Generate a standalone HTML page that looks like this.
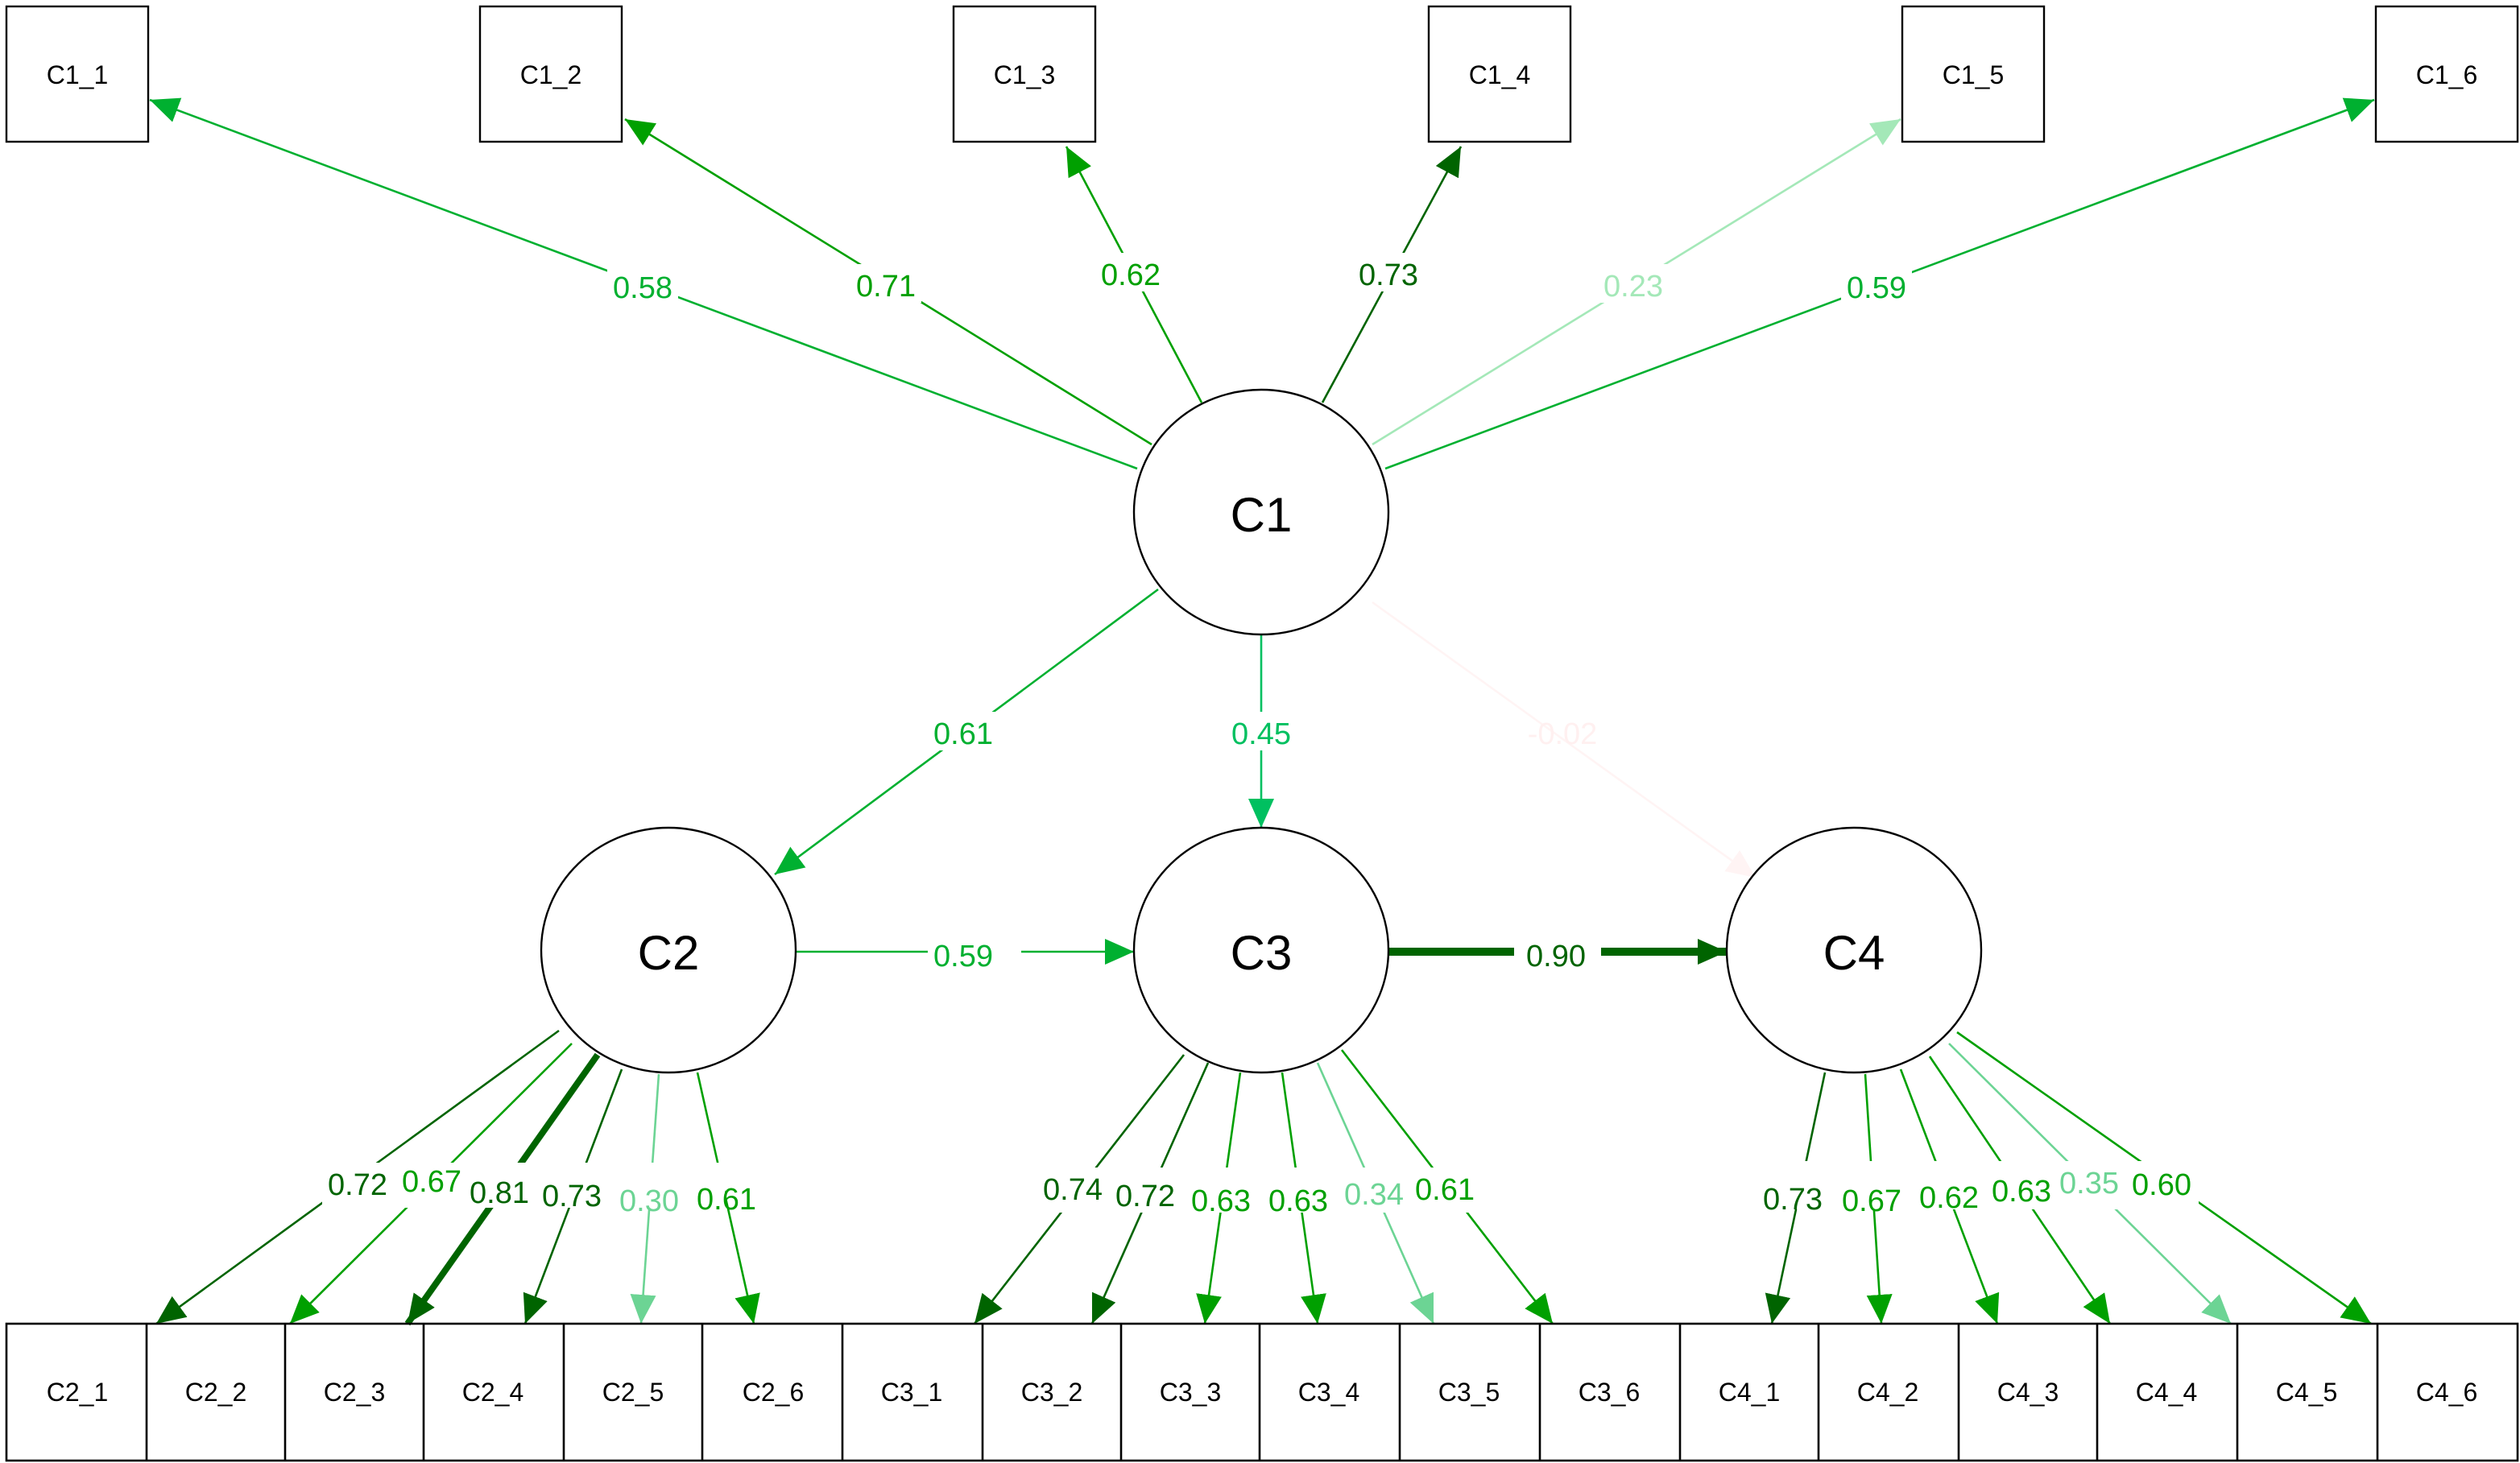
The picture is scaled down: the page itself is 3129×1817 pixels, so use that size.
<!DOCTYPE html>
<html><head><meta charset="utf-8"><style>
html,body{margin:0;padding:0;background:#fff}
svg{display:block}
text{font-family:"Liberation Sans",sans-serif}
</style></head><body>
<svg width="3129" height="1817" viewBox="0 0 1564.5 908.5" xmlns="http://www.w3.org/2000/svg">
<defs>
<marker id="md" markerUnits="userSpaceOnUse" markerWidth="20" markerHeight="18" refX="18" refY="8" orient="auto"><path d="M0,0 L18,8 L0,16 Z" fill="#006400"/></marker>
<marker id="mm" markerUnits="userSpaceOnUse" markerWidth="20" markerHeight="18" refX="18" refY="8" orient="auto"><path d="M0,0 L18,8 L0,16 Z" fill="#00a000"/></marker>
<marker id="mb" markerUnits="userSpaceOnUse" markerWidth="20" markerHeight="18" refX="18" refY="8" orient="auto"><path d="M0,0 L18,8 L0,16 Z" fill="#00b030"/></marker>
<marker id="mt" markerUnits="userSpaceOnUse" markerWidth="20" markerHeight="18" refX="18" refY="8" orient="auto"><path d="M0,0 L18,8 L0,16 Z" fill="#00c060"/></marker>
<marker id="ml" markerUnits="userSpaceOnUse" markerWidth="20" markerHeight="18" refX="18" refY="8" orient="auto"><path d="M0,0 L18,8 L0,16 Z" fill="#6cd494"/></marker>
<marker id="mx" markerUnits="userSpaceOnUse" markerWidth="20" markerHeight="18" refX="18" refY="8" orient="auto"><path d="M0,0 L18,8 L0,16 Z" fill="#a4e8b8"/></marker>
<marker id="mf" markerUnits="userSpaceOnUse" markerWidth="20" markerHeight="18" refX="18" refY="8" orient="auto"><path d="M0,0 L18,8 L0,16 Z" fill="#fff4f4"/></marker>
</defs>
<g fill="none" stroke-width="1.3">
<line x1="706" y1="291" x2="93" y2="62" stroke="#00b030" marker-end="url(#mb)"/>
<line x1="715" y1="276" x2="388" y2="74" stroke="#00a000" marker-end="url(#mm)"/>
<line x1="746" y1="250" x2="662" y2="91" stroke="#00a000" marker-end="url(#mm)"/>
<line x1="821" y1="250" x2="907" y2="91" stroke="#006400" marker-end="url(#md)"/>
<line x1="852" y1="276" x2="1180" y2="74" stroke="#a4e8b8" marker-end="url(#mx)"/>
<line x1="860" y1="291" x2="1474" y2="62" stroke="#00b030" marker-end="url(#mb)"/>
<line x1="719" y1="366" x2="481" y2="543" stroke="#00b030" marker-end="url(#mb)"/>
<line x1="783" y1="394" x2="783" y2="514" stroke="#00c060" marker-end="url(#mt)"/>
<line x1="852" y1="374" x2="1090" y2="545" stroke="#fff4f4" marker-end="url(#mf)"/>
<line x1="494" y1="591" x2="704" y2="591" stroke="#00b030" marker-end="url(#mb)"/>
<line x1="862" y1="591" x2="1072" y2="591" stroke="#006400" stroke-width="5" marker-end="url(#md)"/>
<line x1="347" y1="640" x2="97" y2="822" stroke="#006400" marker-end="url(#md)"/>
<line x1="355" y1="648" x2="180" y2="822" stroke="#00a000" marker-end="url(#mm)"/>
<line x1="371" y1="655" x2="253" y2="822" stroke="#006400" stroke-width="4" marker-end="url(#md)"/>
<line x1="386" y1="664" x2="326" y2="822" stroke="#006400" marker-end="url(#md)"/>
<line x1="409" y1="667" x2="398" y2="822" stroke="#6cd494" marker-end="url(#ml)"/>
<line x1="433" y1="666" x2="468" y2="822" stroke="#00a000" marker-end="url(#mm)"/>
<line x1="735" y1="655" x2="605" y2="822" stroke="#006400" marker-end="url(#md)"/>
<line x1="750" y1="660" x2="678" y2="822" stroke="#006400" marker-end="url(#md)"/>
<line x1="770" y1="666" x2="748" y2="822" stroke="#00a000" marker-end="url(#mm)"/>
<line x1="796" y1="666" x2="818" y2="822" stroke="#00a000" marker-end="url(#mm)"/>
<line x1="818" y1="660" x2="890" y2="822" stroke="#6cd494" marker-end="url(#ml)"/>
<line x1="833" y1="652" x2="964" y2="822" stroke="#00a000" marker-end="url(#mm)"/>
<line x1="1133" y1="666" x2="1100" y2="822" stroke="#006400" marker-end="url(#md)"/>
<line x1="1158" y1="667" x2="1168" y2="822" stroke="#00a000" marker-end="url(#mm)"/>
<line x1="1180" y1="664" x2="1240" y2="822" stroke="#00a000" marker-end="url(#mm)"/>
<line x1="1198" y1="656" x2="1310" y2="822" stroke="#00a000" marker-end="url(#mm)"/>
<line x1="1210" y1="648" x2="1385" y2="822" stroke="#6cd494" marker-end="url(#ml)"/>
<line x1="1215" y1="641" x2="1472" y2="822" stroke="#00a000" marker-end="url(#mm)"/>
</g>
<g fill="#fff">
<rect x="377" y="165" width="44" height="24"/><rect x="528" y="164" width="44" height="24"/>
<rect x="680" y="157" width="44" height="24"/><rect x="840" y="157" width="44" height="24"/>
<rect x="992" y="164" width="44" height="24"/><rect x="1143" y="165" width="44" height="24"/>
<rect x="576" y="442" width="44" height="24"/><rect x="761" y="442" width="44" height="24"/>
<rect x="576" y="580" width="58" height="24"/><rect x="940" y="578" width="54" height="26"/>
<rect x="200" y="722" width="250" height="28"/>
<rect x="644" y="725" width="276" height="28"/>
<rect x="1091" y="721" width="274" height="30"/>
</g>
<g font-size="19" text-anchor="middle">
<text x="399" y="185" fill="#00b030">0.58</text>
<text x="550" y="184" fill="#00a000">0.71</text>
<text x="702" y="177" fill="#00a000">0.62</text>
<text x="862" y="177" fill="#006400">0.73</text>
<text x="1014" y="184" fill="#a4e8b8">0.23</text>
<text x="1165" y="185" fill="#00b030">0.59</text>
<text x="598" y="462" fill="#00b030">0.61</text>
<text x="783" y="462" fill="#00c060">0.45</text>
<text x="970" y="462" fill="#fff0f0">-0.02</text>
<text x="598" y="600" fill="#00b030">0.59</text>
<text x="966" y="600" fill="#006400">0.90</text>
<text x="222" y="742" fill="#006400">0.72</text>
<text x="268" y="740" fill="#00a000">0.67</text>
<text x="310" y="747" fill="#006400">0.81</text>
<text x="355" y="749" fill="#006400">0.73</text>
<text x="403" y="752" fill="#6cd494">0.30</text>
<text x="451" y="751" fill="#00a000">0.61</text>
<text x="666" y="745" fill="#006400">0.74</text>
<text x="711" y="749" fill="#006400">0.72</text>
<text x="758" y="752" fill="#00a000">0.63</text>
<text x="806" y="752" fill="#00a000">0.63</text>
<text x="853" y="748" fill="#6cd494">0.34</text>
<text x="897" y="745" fill="#00a000">0.61</text>
<text x="1113" y="751" fill="#006400">0.73</text>
<text x="1162" y="752" fill="#00a000">0.67</text>
<text x="1210" y="750" fill="#00a000">0.62</text>
<text x="1255" y="746" fill="#00a000">0.63</text>
<text x="1297" y="741" fill="#6cd494">0.35</text>
<text x="1342" y="742" fill="#00a000">0.60</text>
</g>
<g fill="#fff" stroke="#000" stroke-width="1.2">
<ellipse cx="783" cy="318" rx="79" ry="76"/>
<ellipse cx="415" cy="590" rx="79" ry="76"/>
<ellipse cx="783" cy="590" rx="79" ry="76"/>
<ellipse cx="1151" cy="590" rx="79" ry="76"/>
<rect x="4" y="4" width="88" height="84"/><rect x="298" y="4" width="88" height="84"/>
<rect x="592" y="4" width="88" height="84"/><rect x="887" y="4" width="88" height="84"/>
<rect x="1181" y="4" width="88" height="84"/><rect x="1475" y="4" width="88" height="84"/>
</g>
<g fill="none" stroke="#000" stroke-width="1.3">
<rect x="4" y="822" width="1559" height="85"/>
<path d="M91,822V907M177,822V907M263,822V907M350,822V907M436,822V907M523,822V907M610,822V907M696,822V907M782,822V907M869,822V907M956,822V907M1043,822V907M1129,822V907M1216,822V907M1302,822V907M1389,822V907M1476,822V907"/>
</g>
<g font-size="30" text-anchor="middle" fill="#000">
<text x="783" y="330">C1</text><text x="415" y="602">C2</text>
<text x="783" y="602">C3</text><text x="1151" y="602">C4</text>
</g>
<g font-size="16" text-anchor="middle" fill="#000">
<text x="48" y="52">C1_1</text><text x="342" y="52">C1_2</text><text x="636" y="52">C1_3</text>
<text x="931" y="52">C1_4</text><text x="1225" y="52">C1_5</text><text x="1519" y="52">C1_6</text>
<text x="48" y="870">C2_1</text><text x="134" y="870">C2_2</text><text x="220" y="870">C2_3</text>
<text x="306" y="870">C2_4</text><text x="393" y="870">C2_5</text><text x="480" y="870">C2_6</text>
<text x="566" y="870">C3_1</text><text x="653" y="870">C3_2</text><text x="739" y="870">C3_3</text>
<text x="825" y="870">C3_4</text><text x="912" y="870">C3_5</text><text x="999" y="870">C3_6</text>
<text x="1086" y="870">C4_1</text><text x="1172" y="870">C4_2</text><text x="1259" y="870">C4_3</text>
<text x="1345" y="870">C4_4</text><text x="1432" y="870">C4_5</text><text x="1519" y="870">C4_6</text>
</g>
</svg>
</body></html>
